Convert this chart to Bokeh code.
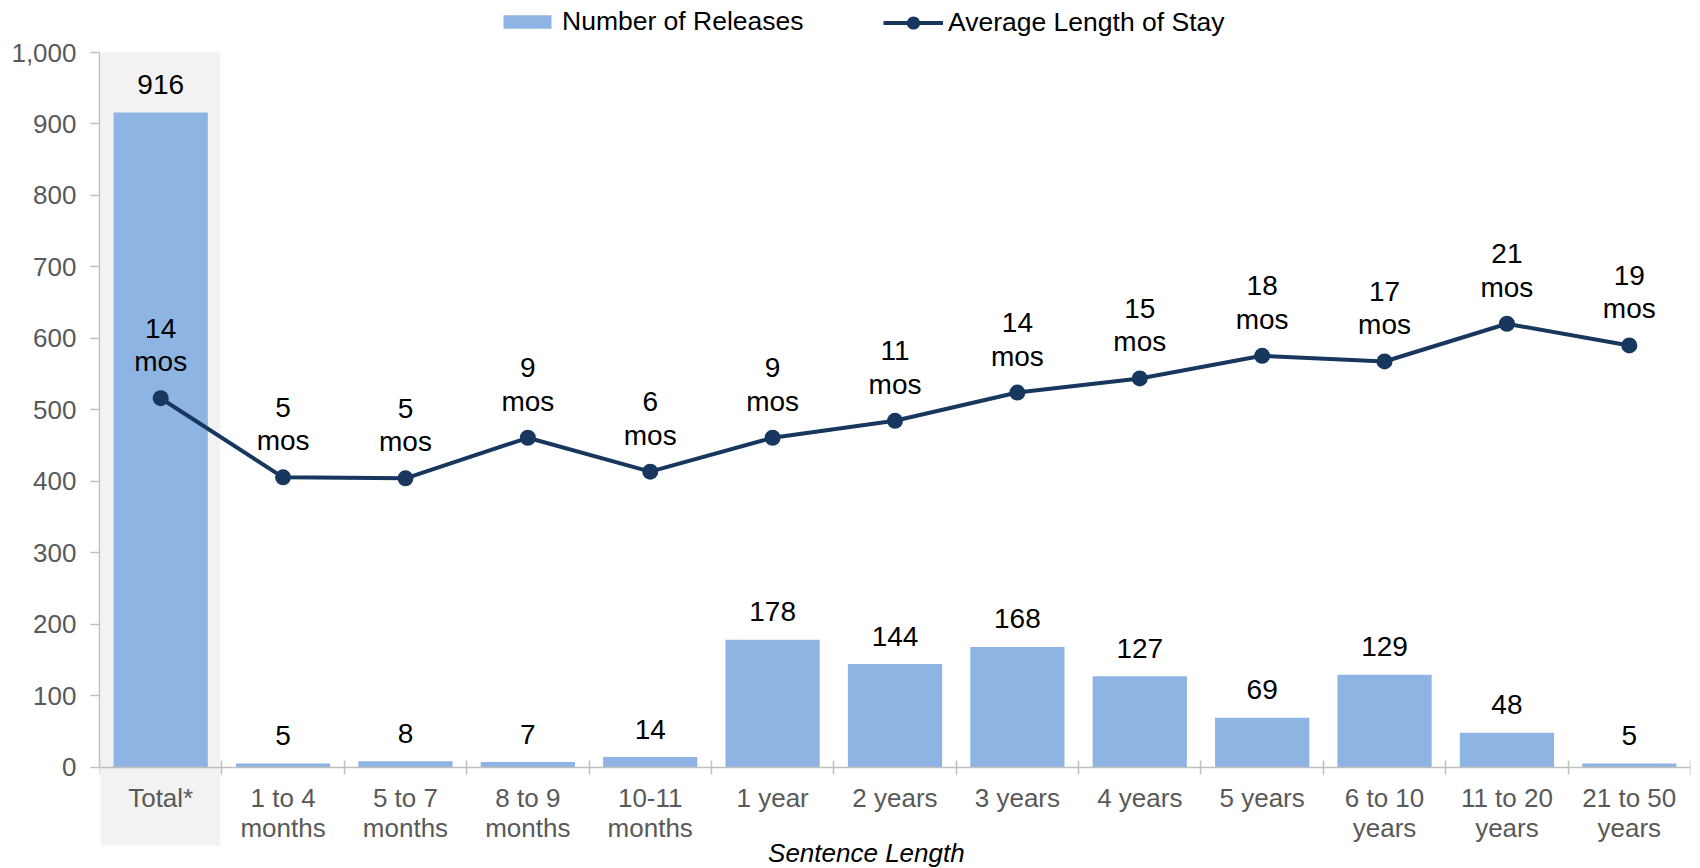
from bokeh.plotting import figure
from bokeh.models import (Range1d, FixedTicker, NumeralTickFormatter, ColumnDataSource,
                          BoxAnnotation, Label, Legend, LegendItem)
from bokeh.core.properties import value
from bokeh.embed import file_html
from bokeh.resources import INLINE

# ---------------- data ----------------
categories = ["Total*", "1 to 4\nmonths", "5 to 7\nmonths", "8 to 9\nmonths", "10-11\nmonths",
              "1 year", "2 years", "3 years", "4 years", "5 years",
              "6 to 10\nyears", "11 to 20\nyears", "21 to 50\nyears"]
releases = [916, 5, 8, 7, 14, 178, 144, 168, 127, 69, 129, 48, 5]
avg_stay_months = [13.5, 5.1, 5.0, 9.3, 5.7, 9.3, 11.1, 14.1, 15.6, 18.0, 17.4, 21.4, 19.1]
avg_stay_labels = ["14", "5", "5", "9", "6", "9", "11", "14", "15", "18", "17", "21", "19"]
y_ticks = [0, 100, 200, 300, 400, 500, 600, 700, 800, 900, 1000]

FONT = "Liberation Sans"
BAR = "#8eb4e3"
LINE = "#17375e"
AXIS = "#bfbfbf"
TICKTXT = "#595959"

xs = list(range(len(categories)))
src = ColumnDataSource(dict(
    x=xs, releases=releases, los=avg_stay_months,
    rel_lbl=[str(v) for v in releases],
    los_lbl=[f"{l}\nmos" for l in avg_stay_labels],
))

# frame covers the whole height so that the highlight, legend and title are not clipped
p = figure(width=1700, height=868, output_backend="svg", toolbar_location=None,
           x_range=Range1d(-0.5, len(categories) - 0.5), y_range=Range1d(-142.05, 1072.8),
           min_border_left=99, min_border_right=10, min_border_top=0, min_border_bottom=0)
p.extra_y_ranges = {"los": Range1d(-25.6 - 142.05 * 0.07617, 50.17 + 72.8 * 0.07617)}
p.outline_line_color = None
p.xgrid.grid_line_color = None
p.ygrid.grid_line_color = None
p.background_fill_color = "white"
p.border_fill_color = "white"

# highlight of the Total column (extends under the tick label)
p.add_layout(BoxAnnotation(left=-0.488, right=0.488, top=1000, bottom=-110,
                           fill_color="#f2f2f2", fill_alpha=1.0, line_color=None,
                           level="underlay"))

bars = p.vbar(x="x", top="releases", width=0.77, source=src,
              fill_color=BAR, line_color=None)
line = p.line("x", "los", source=src, y_range_name="los",
              line_color=LINE, line_width=4)
dots = p.scatter("x", "los", source=src, y_range_name="los", size=16,
                 fill_color=LINE, line_color=None)

p.text(x="x", y="releases", text="rel_lbl", source=src, text_align="center",
       text_baseline="alphabetic", y_offset=-28, text_font=value(FONT),
       text_font_size="28px", text_color="black")
p.text(x="x", y="los", text="los_lbl", source=src, y_range_name="los",
       text_align="center", text_baseline="bottom", y_offset=-21,
       text_line_height=1.08, text_font=value(FONT),
       text_font_size="28px", text_color="black")

# axes
xax = p.xaxis[0]
xax.fixed_location = 0
xax.ticker = FixedTicker(ticks=xs, minor_ticks=[i - 0.5 for i in range(len(categories) + 1)])
xax.major_label_overrides = {i: c for i, c in enumerate(categories)}
xax.major_tick_line_color = None
xax.major_tick_in = 0
xax.major_tick_out = 0
xax.minor_tick_in = 7
xax.minor_tick_out = 7
xax.minor_tick_line_color = AXIS
xax.minor_tick_line_width = 1.5
xax.axis_line_color = AXIS
xax.axis_line_width = 1.5
xax.major_label_text_font = FONT
xax.major_label_text_font_size = "26px"
xax.major_label_text_line_height = 1.0
xax.major_label_text_color = TICKTXT
xax.major_label_standoff = 9

yax = p.yaxis[0]
yax.bounds = (0, 1000)
yax.ticker = FixedTicker(ticks=y_ticks)
yax.formatter = NumeralTickFormatter(format="0,0")
yax.minor_tick_line_color = None
yax.major_tick_in = 0
yax.major_tick_out = 9
yax.major_tick_line_color = AXIS
yax.major_tick_line_width = 1.5
yax.axis_line_color = AXIS
yax.axis_line_width = 1.5
yax.major_label_text_font = FONT
yax.major_label_text_font_size = "26px"
yax.major_label_text_color = TICKTXT
yax.major_label_standoff = 14

p.add_layout(Label(x=5.766, y=-120, text="Sentence Length", text_align="center",
                   text_baseline="middle", text_font=FONT, text_font_size="26px",
                   text_font_style="italic", text_color="black"))

legend_style = dict(orientation="horizontal", label_text_font=FONT,
                    label_text_font_size="26.5px", label_text_color="black",
                    glyph_width=60, label_standoff=5, padding=0, margin=0,
                    border_line_color=None, background_fill_alpha=0)
legend_bars = Legend(items=[LegendItem(label="Number of Releases", renderers=[bars])],
                     location=(398, 831), glyph_height=17, **legend_style)
legend_line = Legend(items=[LegendItem(label="Average Length of Stay", renderers=[line, dots])],
                     location=(784, 829.5), glyph_height=33, **legend_style)
p.add_layout(legend_bars)
p.add_layout(legend_line)

open("out.html", "w").write(file_html(p, INLINE))
